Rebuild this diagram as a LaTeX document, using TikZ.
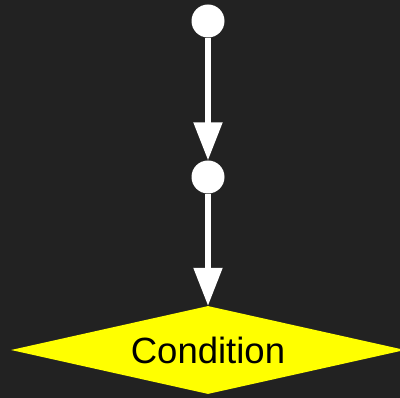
\documentclass[tikz,border=0pt]{standalone}
\usepackage{fontspec}
\setmainfont{Liberation Sans}
\usepackage{tikz}
\usetikzlibrary{arrows.meta,shapes.geometric}
\definecolor{bgdark}{HTML}{222222}
\definecolor{condyellow}{HTML}{FFFF00}

\begin{document}
\begin{tikzpicture}[x=1pt,y=-1pt]
    \fill[bgdark] (0,0) rectangle (400,398);
    \useasboundingbox (0,0) rectangle (400,398);

    \begin{scope}[every node/.style={inner sep=0pt}]
      \node[shape=circle,fill=white,minimum size=33pt] (A) at (208,21) {};
      \node[shape=circle,fill=white,minimum size=33pt] (B) at (208,177) {};
      %\node[shape=circle,fill=white,minimum size=33pt] (D) at (208,250) {};

      \node[shape=diamond,fill=condyellow,aspect=4.48,
            minimum width=394pt,minimum height=88pt,
            font=\fontsize{36.5}{40}\selectfont] (C) at (208,350)
           {Condition};
    \end{scope}

    \begin{scope}[>={Triangle[length=38pt,width=28pt,white]},
        every edge/.style={draw=white,line width=5.2pt}]
      \path [->] (A) edge (B);
      \path [->] (B) edge (C);
    \end{scope}
  \end{tikzpicture}
\end{document}
